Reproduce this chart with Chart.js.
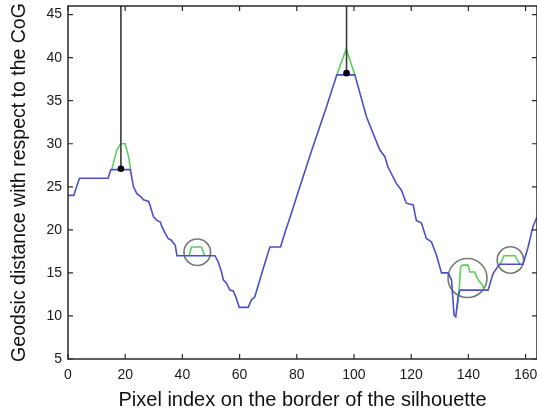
<!DOCTYPE html>
<html>
<head>
<meta charset="utf-8">
<script src="https://cdn.jsdelivr.net/npm/chart.js@4.4.0/dist/chart.umd.min.js"></script>
<style>
html,body{margin:0;padding:0;background:#fff;}
#c{display:block;}
</style>
</head>
<body>
<canvas id="c" width="537" height="419"></canvas>
<script>
// ---- data ----
const blueX = [0,2,4,14,15,21.8,22.9,24.1,25.3,26.4,28.2,28.8,29.9,31.1,32.3,32.8,34,35,36.1,37.5,38.1,51.4,52.5,53.7,54.3,55.4,56.6,57.8,58.7,59.9,63,64.2,65.3,67.1,68.8,70.6,74.3,76,78,80,85,90.4,94,100.3,104.4,109,110.8,111.9,114.8,116.6,118.3,120.7,121.8,123.6,125.3,127.1,128.8,130.6,132.9,134.1,135,135.6,136.4,137,146.9,148.6,149.8,151,159.1,160.8,162.6,164];
const blueY = [24,24,26,26,27,27,25,24.2,23.9,23.5,23.3,22.7,21.5,21.1,20.9,20.4,19.6,19,18.8,18.2,17,17,16.3,15.1,14.2,13.8,13,12.9,12.2,11,11,11.9,12.2,14.2,16.1,18,18,19.8,21.8,23.9,29,34.3,38,38,33.1,29.3,28.5,27.3,25.4,24.6,23.1,22.9,21.1,20.8,19,18.6,17.1,15,15,14.2,10.1,9.9,12.2,13,13,14.9,15.5,16,16,17.9,20.4,21.5];

// green segments (null separates them)
const greenX = [15.3,17,18.4,20,21.2,21.9, 22, 42.3,43.2,46.7,47.8, 48, 94,97.3,100.3, 101, 136,136.7,137.3,137.9,139.9,140.5,142.2,143.4,144.9,145.7, 146, 151.1,152.5,156.3,158];
const greenY = [27,29.2,30,30,28.5,27, null, 17,18,18,17, null, 38,41,38, null, 10.7,12.6,15.7,15.9,15.9,15.1,15.1,14.2,13.6,13, null, 16,17,17,16];

// detected maxima (black dot + vertical line)
const peakX = [18.5, 97.4];
const peakY = [27.1, 38.2];

// grey circles
const circleX = [45.2, 139.7, 154.7];
const circleY = [17.4, 14.4, 16.5];

const xTickStep = 20;
const yTickStep = 5;
const xMin = 0, xMax = 164, yMin = 5, yMax = 46;

// ---- build datasets ----
const pts = (xs, ys) => xs.map((x, i) => ({x: x, y: ys[i]}));

const datasets = [];
peakX.forEach((px, i) => {
  datasets.push({
    type: 'line', data: [{x: px, y: peakY[i]}, {x: px, y: yMax}],
    borderColor: '#3a3a3a', borderWidth: 1.6, pointRadius: 0, order: 0, tension: 0
  });
});
datasets.push({
  type: 'scatter', data: pts(peakX, peakY),
  pointRadius: 3.3, backgroundColor: '#000', borderColor: '#000', borderWidth: 0, order: -1
});
datasets.push({
  type: 'line', data: pts(blueX, blueY),
  borderColor: '#4a50c6', borderWidth: 1.6, pointRadius: 0, order: 1, tension: 0
});
datasets.push({
  type: 'line', data: pts(greenX, greenY), spanGaps: false,
  borderColor: '#5ccf5c', borderWidth: 1.6, pointRadius: 0, order: 2, tension: 0
});
datasets.push({
  type: 'scatter', data: pts(circleX, circleY),
  pointRadius: [13.3, 19.5, 13.2], pointStyle: 'circle',
  backgroundColor: 'rgba(0,0,0,0)', borderColor: '#777', borderWidth: 1.6, order: 3
});

// frame + inward ticks on all four sides
const framePlugin = {
  id: 'frame',
  afterDraw(chart) {
    const {ctx, chartArea: a, scales: {x, y}} = chart;
    ctx.save();
    ctx.strokeStyle = '#2a2a2a';
    ctx.lineWidth = 1.5;
    ctx.strokeRect(a.left, a.top, a.right - a.left, a.bottom - a.top);
    ctx.lineWidth = 1.2;
    const L = 5;
    ctx.beginPath();
    x.ticks.forEach(t => {
      const px = x.getPixelForValue(t.value);
      ctx.moveTo(px, a.bottom); ctx.lineTo(px, a.bottom - L);
      ctx.moveTo(px, a.top); ctx.lineTo(px, a.top + L);
    });
    y.ticks.forEach(t => {
      const py = y.getPixelForValue(t.value);
      ctx.moveTo(a.left, py); ctx.lineTo(a.left + L, py);
      ctx.moveTo(a.right, py); ctx.lineTo(a.right - L, py);
    });
    ctx.stroke();
    ctx.restore();
  }
};

const FONT = "'Liberation Sans', Arial, Helvetica, sans-serif";

new Chart(document.getElementById('c'), {
  type: 'line',
  data: {datasets: datasets},
  options: {
    responsive: false,
    animation: false,
    devicePixelRatio: 1,
    layout: {autoPadding: false, padding: {top: 6, right: 0, left: 0, bottom: 0}},
    plugins: {legend: {display: false}, tooltip: {enabled: false}},
    scales: {
      x: {
        type: 'linear', min: xMin, max: xMax,
        grid: {display: false, drawTicks: false}, border: {display: false},
        ticks: {stepSize: xTickStep, includeBounds: false, maxRotation: 0, autoSkip: false,
                padding: 8, color: '#1a1a1a', font: {family: FONT, size: 14}},
        title: {display: true, text: 'Pixel index on the border of the silhouette',
                color: '#111', font: {family: FONT, size: 20}, padding: {top: 0, bottom: 7}},
        afterFit(s) { s.height = 60; s.paddingLeft = 0; s.paddingRight = 0; }
      },
      y: {
        type: 'linear', min: yMin, max: yMax,
        grid: {display: false, drawTicks: false}, border: {display: false},
        ticks: {stepSize: yTickStep, includeBounds: false, autoSkip: false,
                padding: 6, color: '#1a1a1a', font: {family: FONT, size: 14}},
        title: {display: true, text: 'Geodsic distance with respect to the CoG',
                color: '#111', font: {family: FONT, size: 19.5}, padding: {top: 8, bottom: 0}},
        afterFit(s) { s.width = 68; s.paddingTop = 0; s.paddingBottom = 0; }
      }
    }
  },
  plugins: [framePlugin]
});
</script>
</body>
</html>
